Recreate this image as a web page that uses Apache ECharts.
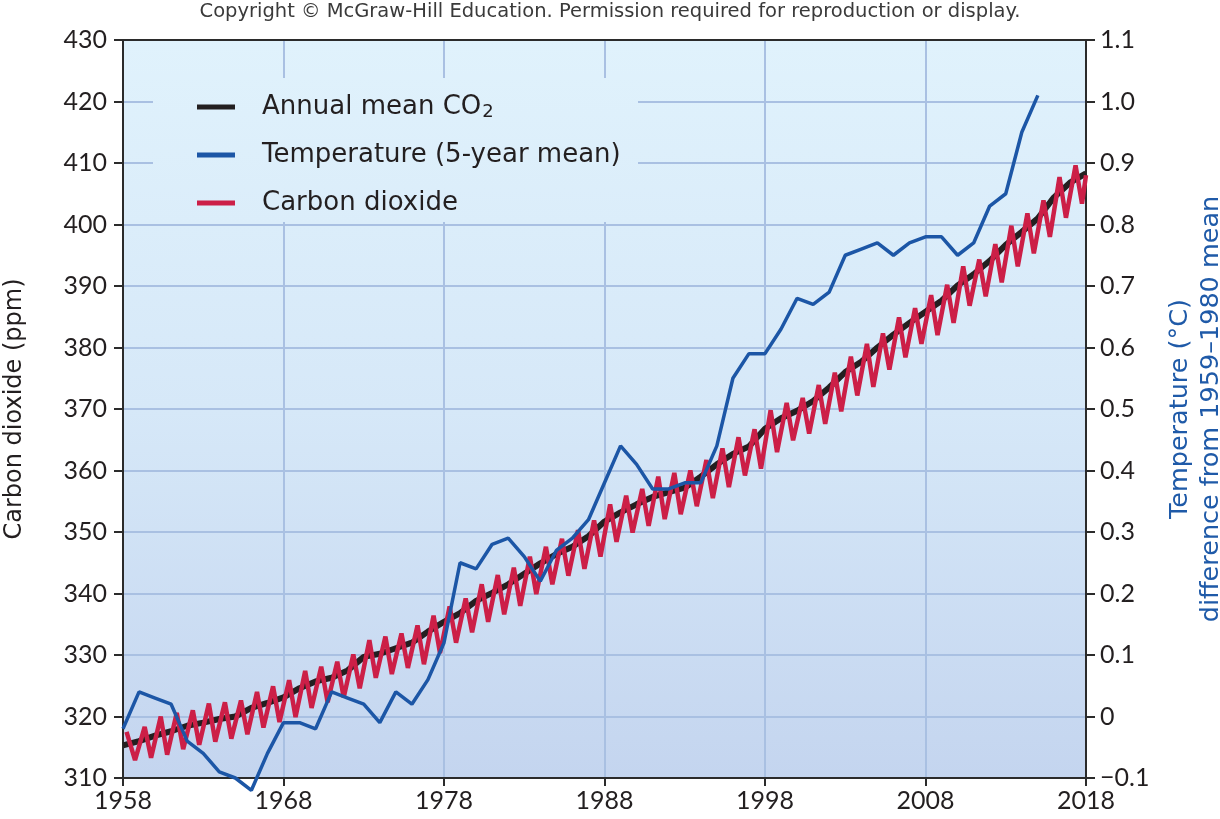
<!DOCTYPE html>
<html>
<head>
<meta charset="utf-8">
<script src="https://cdn.jsdelivr.net/npm/echarts@6/dist/echarts.min.js"></script>
<style>
  html, body { margin: 0; padding: 0; background: #fff; }
  #echart { width: 1220px; height: 819px; }
</style>
</head>
<body>
<div id="echart"></div>
<script>
// years on the x axis
var years = [];
for (var y = 1958; y <= 2018; y++) years.push(y);

// annual mean CO2 (ppm), 1958..2018
var co2Annual = [315.3, 316.0, 316.9, 317.6, 318.5, 319.0, 319.6, 320.0, 321.4, 322.2,
  323.1, 324.6, 325.7, 326.3, 327.5, 329.7, 330.2, 331.1, 332.0, 333.8,
  335.4, 336.8, 338.8, 340.1, 341.5, 343.2, 344.9, 346.4, 347.6, 349.3,
  351.7, 353.2, 354.5, 355.7, 356.5, 357.2, 359.0, 361.0, 362.7, 363.9,
  366.8, 368.5, 369.7, 371.3, 373.5, 376.0, 377.7, 380.0, 382.1, 384.0,
  385.8, 387.6, 390.1, 391.9, 394.1, 396.7, 398.8, 401.0, 404.4, 406.8, 408.3];

// seasonal CO2 highs (spring) and lows (autumn), 1958..2017
var co2Peaks = [317.5, 318.3, 320.0, 320.6, 321.0, 322.1, 322.3, 322.6, 324.0, 324.9,
  325.9, 327.4, 328.1, 328.9, 330.1, 332.4, 333.0, 333.5, 334.8, 336.4,
  337.9, 339.2, 341.5, 343.0, 344.2, 346.0, 347.6, 348.9, 350.3, 351.9,
  354.5, 355.9, 357.0, 359.0, 359.6, 360.0, 361.7, 363.6, 365.4, 366.7,
  369.8, 371.0, 371.8, 373.9, 375.9, 378.5, 380.6, 382.3, 384.9, 386.4,
  388.5, 390.2, 393.2, 394.3, 396.8, 399.8, 401.8, 403.9, 407.7, 409.6];
var co2Lows = [312.9, 313.3, 313.8, 314.7, 315.4, 315.9, 316.4, 317.1, 318.2, 319.1,
  319.9, 321.4, 322.3, 323.1, 324.6, 326.3, 326.9, 327.9, 328.5, 330.3,
  332.0, 333.7, 335.4, 336.6, 338.0, 339.9, 341.5, 342.9, 344.0, 346.0,
  348.4, 349.9, 351.0, 352.1, 352.9, 354.2, 355.5, 357.3, 359.2, 360.3,
  363.0, 364.9, 366.0, 367.6, 369.6, 372.2, 373.6, 376.4, 378.4, 380.6,
  382.0, 384.0, 386.8, 388.3, 390.6, 393.2, 395.3, 398.0, 401.1, 403.4];
var co2End = [2018, 408.0];

// temperature, 5-year mean (deg C difference from 1959-1980 mean), 1958..2015
var tempYears = [];
for (var t = 1958; t <= 2015; t++) tempYears.push(t);
var tempMean = [-0.02, 0.04, 0.03, 0.02, -0.04, -0.06, -0.09, -0.10, -0.12, -0.06,
  -0.01, -0.01, -0.02, 0.04, 0.03, 0.02, -0.01, 0.04, 0.02, 0.06,
  0.12, 0.25, 0.24, 0.28, 0.29, 0.26, 0.22, 0.27, 0.29, 0.32,
  0.38, 0.44, 0.41, 0.37, 0.37, 0.38, 0.38, 0.44, 0.55, 0.59,
  0.59, 0.63, 0.68, 0.67, 0.69, 0.75, 0.76, 0.77, 0.75, 0.77,
  0.78, 0.78, 0.75, 0.77, 0.83, 0.85, 0.95, 1.01];

var tempTickLabels = ['\u22120.1', '0', '0.1', '0.2', '0.3', '0.4', '0.5', '0.6', '0.7', '0.8', '0.9', '1.0', '1.1'];

var annualData = years.map(function (yr, i) { return [yr, co2Annual[i]]; });
var seasonalData = [];
co2Peaks.forEach(function (p, i) {
  seasonalData.push([1958 + i + (i === 0 ? 0.22 : 0.35), p]);
  seasonalData.push([1958 + i + 0.75, co2Lows[i]]);
});
seasonalData.push(co2End);
var tempData = tempYears.map(function (yr, i) { return [yr, tempMean[i]]; });

var numFont = 'Lato';
var textFont = 'DejaVu Sans';
var bgStops = [{ offset: 0, color: '#e0f2fc' }, { offset: 0.5, color: '#d6e8f8' }, { offset: 1, color: '#c4d5ef' }];

var myChart = echarts.init(document.getElementById('echart'));
var option = {
  animation: false,
  title: {
    text: 'Copyright \u00a9 McGraw-Hill Education. Permission required for reproduction or display.',
    left: 'center',
    top: -3,
    textStyle: { fontFamily: textFont, fontSize: 19.5, fontWeight: 'normal', color: '#3a3a3a' }
  },
  grid: {
    left: 123, right: 134, top: 40, bottom: 41,
    outerBoundsMode: 'none',
    containLabel: false,
    show: true,
    borderWidth: 0,
    backgroundColor: { type: 'linear', x: 0, y: 0, x2: 0, y2: 1, colorStops: bgStops }
  },
  legend: {
    orient: 'vertical',
    left: 192,
    top: 88,
    itemWidth: 38,
    itemHeight: 5,
    itemGap: 20,
    icon: 'rect',
    data: ['Annual mean CO2', 'Temperature (5-year mean)', 'Carbon dioxide'],
    formatter: function (name) {
      return name === 'Annual mean CO2' ? 'Annual mean CO{sub|2}' : name;
    },
    textStyle: {
      fontFamily: textFont, fontSize: 26, color: '#231f20', lineHeight: 28,
      padding: [0, 0, 0, 22],
      rich: { sub: { fontFamily: textFont, fontSize: 18, color: '#231f20', verticalAlign: 'bottom', padding: [13, 0, 0, 1] } }
    }
  },
  graphic: [{
    type: 'rect',
    shape: { x: 153, y: 78, width: 485, height: 144 },
    style: { fill: { type: 'linear', x: 0, y: 40, x2: 0, y2: 778, global: true, colorStops: bgStops } },
    z: 1
  }],
  xAxis: [{
    type: 'value', min: 1958, max: 2018, interval: 10,
    axisLine: { show: true, onZero: false, lineStyle: { color: '#2b2b2b', width: 2 } },
    axisTick: { show: true, length: 8, lineStyle: { color: '#2b2b2b', width: 2 } },
    axisLabel: { fontFamily: numFont, fontSize: 25, color: '#231f20', margin: 10, formatter: function (v) { return String(v); } },
    splitLine: { show: true, lineStyle: { color: '#a9c0e2', width: 2 } }
  }, {
    type: 'value', min: 1958, max: 2018, position: 'top',
    axisLine: { show: true, onZero: false, lineStyle: { color: '#2b2b2b', width: 2 } },
    axisTick: { show: false }, axisLabel: { show: false }, splitLine: { show: false }
  }],
  yAxis: [{
    type: 'value', min: 310, max: 430, interval: 10,
    name: 'Carbon dioxide (ppm)',
    nameLocation: 'middle', nameRotate: 90, nameGap: 96,
    nameTextStyle: { fontFamily: textFont, fontSize: 24, color: '#231f20' },
    axisLine: { show: true, lineStyle: { color: '#2b2b2b', width: 2 } },
    axisTick: { show: true, length: 9, lineStyle: { color: '#2b2b2b', width: 2 } },
    axisLabel: { fontFamily: numFont, fontSize: 25, color: '#231f20', margin: 16 },
    splitLine: { show: true, lineStyle: { color: '#a9c0e2', width: 2 } }
  }, {
    type: 'value', min: -0.1, max: 1.1, interval: 0.1, position: 'right',
    name: 'Temperature (\u00b0C)\ndifference from 1959\u20131980 mean',
    nameLocation: 'middle', nameRotate: 90, nameGap: 79,
    nameTextStyle: { fontFamily: textFont, fontSize: 25.5, color: '#1f5aa8', lineHeight: 31, align: 'center' },
    axisLine: { show: true, lineStyle: { color: '#2b2b2b', width: 2 } },
    axisTick: { show: true, length: 9, lineStyle: { color: '#2b2b2b', width: 2 } },
    axisLabel: {
      fontFamily: numFont, fontSize: 25, color: '#231f20', margin: 14,
      formatter: function (v) { return tempTickLabels[Math.round((v + 0.1) * 10)]; }
    },
    splitLine: { show: false }
  }],
  series: [{
    name: 'Annual mean CO2',
    type: 'line',
    data: annualData,
    symbol: 'none',
    color: '#231f20',
    lineStyle: { color: '#231f20', width: 6 },
    z: 3
  }, {
    name: 'Carbon dioxide',
    type: 'line',
    data: seasonalData,
    symbol: 'none',
    color: '#cc1f47',
    lineStyle: { color: '#cc1f47', width: 4.5 },
    z: 4
  }, {
    name: 'Temperature (5-year mean)',
    type: 'line',
    yAxisIndex: 1,
    data: tempData,
    symbol: 'none',
    clip: false,
    color: '#1c56a6',
    lineStyle: { color: '#1c56a6', width: 3.5 },
    z: 5
  }]
};
myChart.setOption(option);
window.onresize = myChart.resize;
</script>
</body>
</html>
